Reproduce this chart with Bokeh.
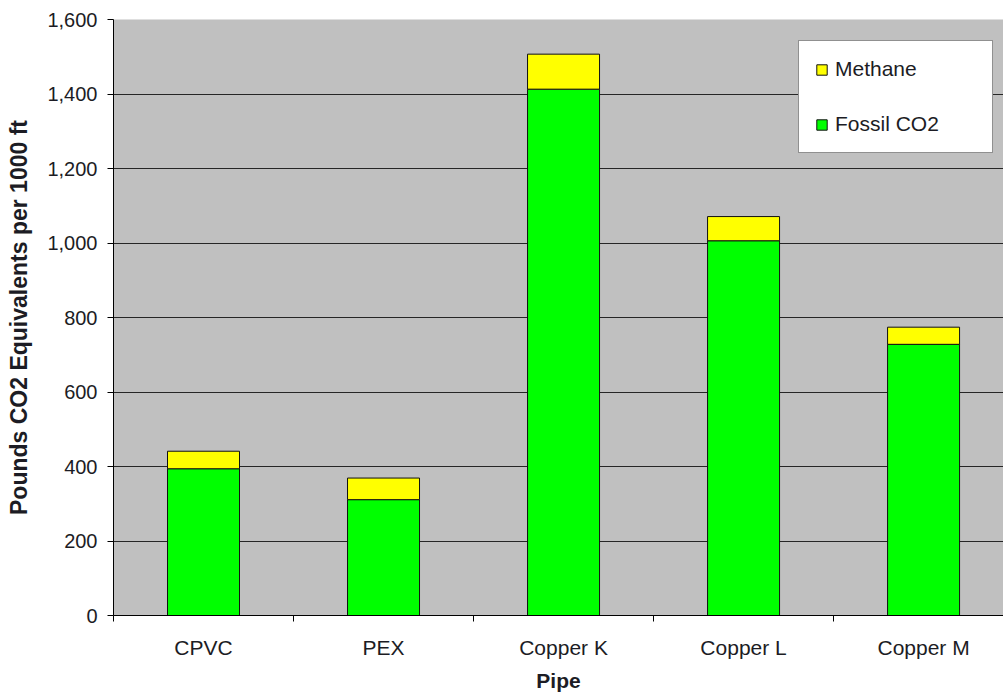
from bokeh.plotting import figure
from bokeh.models import ColumnDataSource, FixedTicker, NumeralTickFormatter, Range1d
from bokeh.embed import file_html
from bokeh.resources import INLINE

# Life-cycle greenhouse gas emissions per 1000 ft of pipe
pipes = ["CPVC", "PEX", "Copper K", "Copper L", "Copper M"]
fossil_co2 = [394, 311, 1413, 1006, 728]
methane = [47, 58, 94, 65, 46]
y_ticks = [0, 200, 400, 600, 800, 1000, 1200, 1400, 1600]

FONT = "Liberation Sans"
TEXT = "#1c1c24"

centers = [i + 0.5 for i in range(len(pipes))]
source = ColumnDataSource(dict(x=centers, pipe=pipes, fossil=fossil_co2, methane=methane))

p = figure(
    width=1003, height=694,
    x_range=Range1d(0, 4.944), y_range=Range1d(y_ticks[0], y_ticks[-1]),
    output_backend="svg", toolbar_location=None,
    min_border_left=113, min_border_right=0, min_border_top=19, min_border_bottom=77,
    background_fill_color="#c0c0c0", border_fill_color="white",
)
p.outline_line_color = None

renderers = p.vbar_stack(
    ["fossil", "methane"], x="x", width=0.4, source=source,
    fill_color=["#00ff00", "#ffff00"], line_color="#111111", line_width=1,
    legend_label=["Fossil CO2", "Methane"],
)

# y axis
p.yaxis.ticker = FixedTicker(ticks=y_ticks)
p.yaxis.formatter = NumeralTickFormatter(format="0,0")
p.yaxis.axis_label = "Pounds CO2 Equivalents per 1000 ft"
p.yaxis.axis_label_text_font = FONT
p.yaxis.axis_label_text_font_style = "bold"
p.yaxis.axis_label_text_font_size = "23px"
p.yaxis.axis_label_text_color = TEXT
p.yaxis.axis_label_standoff = 12
p.yaxis.major_label_text_font = FONT
p.yaxis.major_label_text_font_size = "20px"
p.yaxis.major_label_text_color = TEXT
p.yaxis.major_label_standoff = 10
p.yaxis.major_tick_out = 6
p.yaxis.major_tick_in = 0
p.yaxis.minor_tick_line_color = None
p.yaxis.axis_line_color = "black"
p.yaxis.major_tick_line_color = "black"

# x axis: labels at category centres, tick marks at category boundaries
p.xaxis.ticker = FixedTicker(ticks=centers, minor_ticks=list(range(len(pipes) + 1)))
p.xaxis.major_label_overrides = {c: name for c, name in zip(centers, pipes)}
p.xaxis.axis_label = "Pipe"
p.xaxis.axis_label_text_font = FONT
p.xaxis.axis_label_text_font_style = "bold"
p.xaxis.axis_label_text_font_size = "21px"
p.xaxis.axis_label_text_color = TEXT
p.xaxis.axis_label_standoff = 7
p.xaxis.major_label_text_font = FONT
p.xaxis.major_label_text_font_size = "21px"
p.xaxis.major_label_text_color = TEXT
p.xaxis.major_label_standoff = 14
p.xaxis.major_tick_out = 0
p.xaxis.major_tick_in = 0
p.xaxis.major_tick_line_color = None
p.xaxis.minor_tick_out = 6
p.xaxis.minor_tick_in = 0
p.xaxis.minor_tick_line_color = "black"
p.xaxis.axis_line_color = "black"

# grid
p.xgrid.visible = False
p.ygrid.ticker = FixedTicker(ticks=y_ticks[1:-1])
p.ygrid.grid_line_color = "#262626"
p.ygrid.grid_line_width = 1

# legend: Methane listed above Fossil CO2
leg = p.legend[0]
leg.items = list(reversed(leg.items))
leg.location = (685, 462)
leg.orientation = "vertical"
leg.padding = 16
leg.spacing = 31
leg.glyph_width = 13
leg.glyph_height = 13
leg.label_standoff = 7
leg.label_width = 141
leg.label_text_font = FONT
leg.label_text_font_size = "21px"
leg.label_text_color = TEXT
leg.border_line_color = "#222222"
leg.border_line_width = 1
leg.background_fill_color = "white"
leg.background_fill_alpha = 1.0
leg.margin = 0

open("out.html", "w").write(file_html(p, INLINE))
